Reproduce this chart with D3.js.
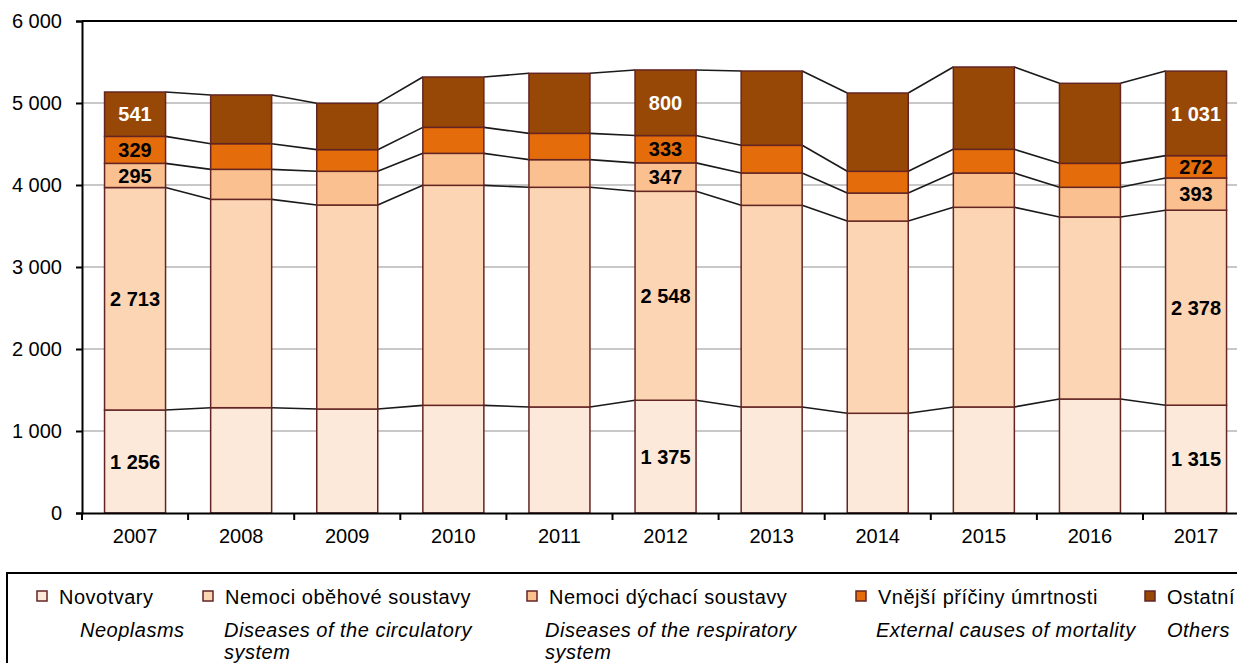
<!DOCTYPE html>
<html>
<head>
<meta charset="utf-8">
<script src="https://cdn.jsdelivr.net/npm/d3@7"></script>
<style>
  body { margin: 0; background: #fff; }
  svg { display: block; font-family: "Liberation Sans", Arial, sans-serif; }
</style>
</head>
<body>
<div id="chart"></div>
<script>
// data
const years = ['2007', '2008', '2009', '2010', '2011', '2012', '2013', '2014', '2015', '2016', '2017'];
const neoplasms = [1256, 1284, 1268, 1313, 1293, 1375, 1293, 1216, 1293, 1390, 1315];
const circulatory = [2713, 2541, 2488, 2683, 2679, 2548, 2459, 2344, 2435, 2220, 2378];
const respiratory = [295, 366, 411, 390, 337, 347, 394, 342, 418, 362, 393];
const external = [329, 313, 264, 317, 321, 333, 338, 265, 289, 292, 272];
const others = [541, 594, 565, 614, 732, 800, 906, 955, 1004, 976, 1031];
const labeledYears = ['2007', '2012', '2017'];
const yTicks = [0, 1000, 2000, 3000, 4000, 5000, 6000];

const series = [
  { key: 'neo', values: neoplasms, cz: 'Novotvary', en: ['Neoplasms'], color: '#fde9d9', text: '#000' },
  { key: 'circ', values: circulatory, cz: 'Nemoci oběhové soustavy', en: ['Diseases of the circulatory', 'system'], color: '#fcd5b4', text: '#000' },
  { key: 'resp', values: respiratory, cz: 'Nemoci dýchací soustavy', en: ['Diseases of the respiratory', 'system'], color: '#fac090', text: '#000' },
  { key: 'ext', values: external, cz: 'Vnější příčiny úmrtnosti', en: ['External causes of mortality'], color: '#e46c0a', text: '#000' },
  { key: 'oth', values: others, cz: 'Ostatní', en: ['Others'], color: '#974806', text: '#fff' },
];

const W = 1237;
const H = 663;
const margin = { top: 21, left: 82, bottom: 513 };

const fmt = d3.formatLocale({ decimal: ',', thousands: '\u00a0', grouping: [3], currency: ['', ''] }).format(',d');

const svg = d3.select('#chart').append('svg')
  .attr('width', W)
  .attr('height', H);

// stack
const table = years.map((y, i) => {
  const row = { year: y };
  series.forEach((s) => { row[s.key] = s.values[i]; });
  return row;
});
const stacked = d3.stack().keys(series.map(s => s.key))(table);

const x = d3.scaleBand()
  .domain(years)
  .range([margin.left, margin.left + 11 * 106.1])
  .paddingInner(0.425)
  .paddingOuter(0.2125);

const y = d3.scaleLinear()
  .domain([0, 6000])
  .range([margin.bottom, margin.top]);

// gridlines
svg.append('g')
  .selectAll('line')
  .data(yTicks.filter(t => t > 0 && t < 6000))
  .join('line')
  .attr('x1', margin.left)
  .attr('x2', W)
  .attr('y1', d => y(d))
  .attr('y2', d => y(d))
  .attr('stroke', '#c8c8c8')
  .attr('stroke-width', 2);

// top frame
svg.append('line')
  .attr('x1', margin.left).attr('x2', W)
  .attr('y1', y(6000)).attr('y2', y(6000))
  .attr('stroke', '#000').attr('stroke-width', 2);

// connector lines between bars
const connectors = svg.append('g');
stacked.forEach((layer) => {
  for (let i = 0; i < years.length - 1; i += 1) {
    connectors.append('line')
      .attr('x1', x(years[i]) + x.bandwidth())
      .attr('x2', x(years[i + 1]))
      .attr('y1', y(layer[i][1]))
      .attr('y2', y(layer[i + 1][1]))
      .attr('stroke', '#1a1a1a')
      .attr('stroke-width', 1.6);
  }
});

// bars
stacked.forEach((layer, si) => {
  svg.append('g')
    .selectAll('rect')
    .data(layer)
    .join('rect')
    .attr('x', d => x(d.data.year))
    .attr('width', x.bandwidth())
    .attr('y', d => y(d[1]))
    .attr('height', d => y(d[0]) - y(d[1]))
    .attr('fill', series[si].color)
    .attr('stroke', '#632523')
    .attr('stroke-width', 1.5);
});

// value labels
stacked.forEach((layer, si) => {
  svg.append('g')
    .selectAll('text')
    .data(layer.filter(d => labeledYears.includes(d.data.year)))
    .join('text')
    .attr('x', d => x(d.data.year) + x.bandwidth() / 2)
    .attr('y', d => (y(d[0]) + y(d[1])) / 2)
    .attr('dy', '0.36em')
    .attr('text-anchor', 'middle')
    .attr('font-size', 20)
    .attr('font-weight', 'bold')
    .attr('fill', series[si].text)
    .text(d => fmt(d[1] - d[0]));
});

// y axis
const yAxis = svg.append('g')
  .attr('transform', `translate(${margin.left},0)`)
  .call(d3.axisLeft(y).tickValues(yTicks).tickSize(6).tickPadding(14).tickFormat(fmt));
yAxis.select('.domain').attr('stroke', '#000').attr('stroke-width', 2);
yAxis.selectAll('.tick line').attr('stroke', '#000').attr('stroke-width', 2);
yAxis.selectAll('.tick text')
  .attr('font-size', 20)
  .attr('font-family', '"Liberation Sans", Arial, sans-serif')
  .attr('fill', '#000');

// x axis
const xAxis = svg.append('g')
  .attr('transform', `translate(0,${margin.bottom})`)
  .call(d3.axisBottom(x).tickSize(0).tickPadding(16));
xAxis.select('.domain').attr('stroke', '#000').attr('stroke-width', 2);
xAxis.selectAll('.tick text')
  .attr('font-size', 20)
  .attr('font-family', '"Liberation Sans", Arial, sans-serif')
  .attr('fill', '#000');
xAxis.selectAll('.sep')
  .data(d3.range(years.length + 1))
  .join('line')
  .attr('class', 'sep')
  .attr('x1', i => margin.left + i * x.step())
  .attr('x2', i => margin.left + i * x.step())
  .attr('y1', 0)
  .attr('y2', 7)
  .attr('stroke', '#000')
  .attr('stroke-width', 2);

// legend
const legend = svg.append('g');
legend.append('rect')
  .attr('x', 7).attr('y', 573)
  .attr('width', W + 20).attr('height', 200)
  .attr('fill', '#fff')
  .attr('stroke', '#000')
  .attr('stroke-width', 2);

const legendX = [37, 203, 527, 856, 1145];
const legendEnX = [80, 224, 545, 876, 1167];
series.forEach((s, i) => {
  const g = legend.append('g');
  g.append('rect')
    .attr('x', legendX[i]).attr('y', 591)
    .attr('width', 10).attr('height', 10)
    .attr('fill', s.color)
    .attr('stroke', '#632523')
    .attr('stroke-width', 1.5);
  g.append('text')
    .attr('x', legendX[i] + 22)
    .attr('y', 604)
    .attr('font-size', 20)
    .attr('letter-spacing', 0.5)
    .text(s.cz);
  s.en.forEach((line, li) => {
    g.append('text')
      .attr('x', legendEnX[i])
      .attr('y', 637 + li * 22)
      .attr('font-size', 20)
      .attr('font-style', 'italic')
      .attr('letter-spacing', 0.5)
      .text(line);
  });
});
</script>
</body>
</html>
